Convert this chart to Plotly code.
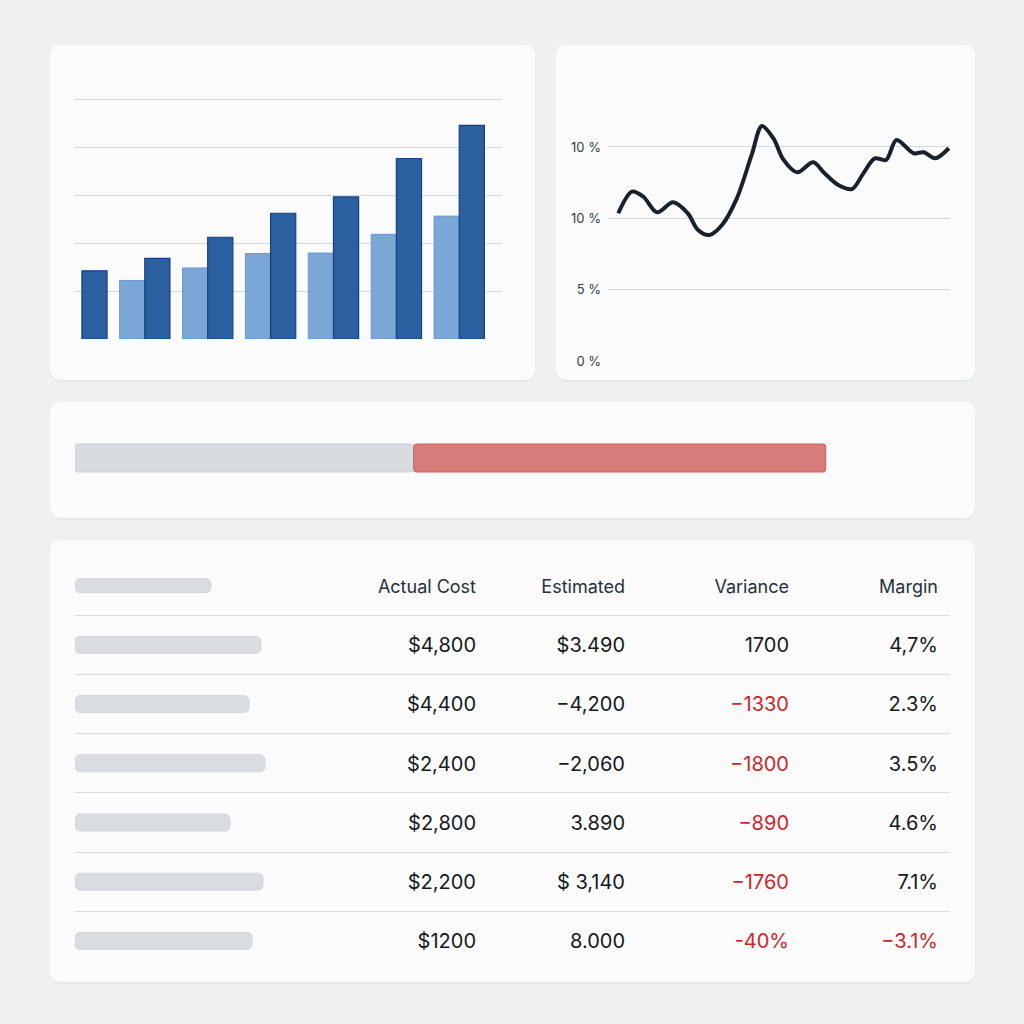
import plotly.graph_objects as go

# ---------------- data ----------------
bar_periods = ["P1", "P2", "P3", "P4", "P5", "P6", "P7"]
bar_light = [None, 1.22, 1.48, 1.78, 1.79, 2.18, 2.56]
bar_dark = [1.42, 1.68, 2.12, 2.62, 2.96, 3.76, 4.45]

line_x = [0.9, 2.1, 3.1, 4.3, 5.7, 7.0, 7.9, 8.9, 10.0, 11.3, 12.6, 13.5, 14.5, 15.4,
          16.6, 18.0, 19.0, 20.2, 21.4, 22.4, 23.4, 24.4, 25.3, 26.8, 27.7, 28.7, 29.9]
line_y = [10.35, 11.87, 11.51, 10.42, 11.12, 10.35, 9.18, 8.83, 9.53, 11.40, 14.44, 16.47,
          15.61, 14.09, 13.22, 13.92, 13.15, 12.33, 12.05, 13.15, 14.20, 14.09, 15.49,
          14.56, 14.63, 14.20, 14.91]
line_tickvals = [0, 5, 10, 15]
line_ticktext = ["0 %", "5 %", "10 %", "10 %"]

progress_spent = 38.7
progress_over = 47.1

table_headers = ["Actual Cost", "Estimated", "Variance", "Margin"]
col_actual = ["$4,800", "$4,400", "$2,400", "$2,800", "$2,200", "$1200"]
col_estimated = ["$3.490", "\u22124,200", "\u22122,060", "3.890", "$ 3,140", "8.000"]
col_variance = ["1700", "\u22121330", "\u22121800", "\u2212890", "\u22121760", "-40%"]
col_margin = ["4,7%", "2.3%", "3.5%", "4.6%", "7.1%", "\u22123.1%"]
label_lengths = [186, 174, 190, 155, 188, 177]   # placeholder label bars (px)
header_label_length = 136

# ---------------- layout helpers ----------------
W = H = 1024
PAGE_BG = "#eef0f2"
CARD_BG = "#fbfbfb"
FONT = "Inter"


def px_x(x):
    return x / W


def px_y(y):
    return 1 - y / H


def rounded_path(x0, y0, x1, y1, r):
    X0, X1 = px_x(x0), px_x(x1)
    Y0, Y1 = px_y(y0), px_y(y1)
    rx, ry = r / W, r / H
    return (f"M{X0+rx},{Y0} L{X1-rx},{Y0} Q{X1},{Y0} {X1},{Y0-ry} "
            f"L{X1},{Y1+ry} Q{X1},{Y1} {X1-rx},{Y1} L{X0+rx},{Y1} "
            f"Q{X0},{Y1} {X0},{Y1+ry} L{X0},{Y0-ry} Q{X0},{Y0} {X0+rx},{Y0} Z")


cards = [(50, 45, 535, 380), (556, 45, 975, 380), (50, 402, 975, 518), (50, 540, 975, 982)]
shapes = []
for (a, b, c, d) in cards:
    shapes.append(dict(type="path", xref="paper", yref="paper", layer="below",
                       path=rounded_path(a, b + 1.5, c, d + 1.5, 11),
                       fillcolor="#e3e5e8", line=dict(width=0)))
    shapes.append(dict(type="path", xref="paper", yref="paper", layer="below",
                       path=rounded_path(a, b, c, d, 11),
                       fillcolor=CARD_BG, line=dict(width=0)))

fig = go.Figure()

# ---------------- bar chart ----------------
fig.add_trace(go.Bar(x=bar_periods, y=bar_light, xaxis="x", yaxis="y",
                     width=0.4, offset=-0.4,
                     marker=dict(color="#7ba7d6", line=dict(color="#6a97cb", width=1)),
                     showlegend=False, hoverinfo="skip"))
fig.add_trace(go.Bar(x=bar_periods, y=bar_dark, xaxis="x", yaxis="y",
                     width=0.4, offset=0.0,
                     marker=dict(color="#2a609f", line=dict(color="#173f85", width=1.2)),
                     showlegend=False, hoverinfo="skip"))

# ---------------- line chart ----------------
fig.add_trace(go.Scatter(x=line_x, y=line_y, xaxis="x2", yaxis="y2", mode="lines",
                         line=dict(color="#18222c", width=4, shape="spline", smoothing=0.9),
                         showlegend=False, hoverinfo="skip"))

# ---------------- progress bar ----------------
fig.add_trace(go.Bar(y=["progress"], x=[progress_spent], base=[0],
                     orientation="h", xaxis="x3", yaxis="y3", width=0.7, offset=-0.35,
                     marker=dict(color="#d8dbe0", line=dict(color="#c9ced6", width=1),
                                 cornerradius=3),
                     showlegend=False, hoverinfo="skip"))
fig.add_trace(go.Bar(y=["progress"], x=[progress_over], base=[progress_spent],
                     orientation="h", xaxis="x3", yaxis="y3", width=0.7, offset=-0.35,
                     marker=dict(color="#d67d7b", line=dict(color="#c9605e", width=1),
                                 cornerradius=3),
                     showlegend=False, hoverinfo="skip"))

# ---------------- table ----------------
TABLE_LEFT = 75
TEXT_DY = 0.04   # small downward nudge of text relative to row centre (rows)
all_lengths = [header_label_length] + label_lengths
rows = list(range(len(all_lengths)))
thick = [0.236] + [0.287] * len(label_lengths)
fig.add_trace(go.Bar(y=rows, x=all_lengths, base=[TABLE_LEFT] * len(all_lengths),
                     orientation="h", xaxis="x4", yaxis="y4",
                     width=thick, offset=[-t / 2 for t in thick],
                     marker=dict(color="#d9dce1", line=dict(color="#cfd3d9", width=0.8),
                                 cornerradius=5),
                     showlegend=False, hoverinfo="skip"))

col_right = [476, 625, 789, 938]
columns = [col_actual, col_estimated, col_variance, col_margin]
highlight = [False, False, True, True]
for j, (vals, hl) in enumerate(zip(columns, highlight)):
    colors = []
    for v in vals:
        neg = v.startswith("\u2212") or v.startswith("-")
        colors.append("#d0242b" if (hl and neg) else "#15191e")
    fig.add_trace(go.Scatter(x=[col_right[j]] * len(vals), y=[r + TEXT_DY for r in rows[1:]],
                             mode="text", text=vals, textposition="middle left",
                             textfont=dict(family=FONT, size=20, color=colors),
                             xaxis="x4", yaxis="y4", showlegend=False, hoverinfo="skip"))
fig.add_trace(go.Scatter(x=col_right, y=[TEXT_DY] * 4, mode="text", text=table_headers,
                         textposition="middle left",
                         textfont=dict(family=FONT, size=18, color="#27303b"),
                         xaxis="x4", yaxis="y4", showlegend=False, hoverinfo="skip"))

# ---------------- layout ----------------
hidden = dict(showgrid=False, zeroline=False, showticklabels=False, ticks="",
              showline=False, automargin=False)

# table rows: header centre 585.7 px, row pitch 59.2 px
ROW0, PITCH = 585.7, 59.2
T_TOP, T_BOT = 543.5, 982.0

fig.update_layout(
    width=W, height=H, margin=dict(l=0, r=0, t=0, b=0, pad=0),
    paper_bgcolor=PAGE_BG, plot_bgcolor="rgba(0,0,0,0)",
    font=dict(family=FONT), shapes=shapes, barmode="group",
    xaxis=dict(domain=[px_x(75), px_x(502)], range=[-0.11, 6.68], anchor="y", **hidden),
    yaxis=dict(domain=[px_y(339), px_y(96)], range=[0, 5.0625], anchor="x",
               tickvals=[0, 1, 2, 3, 4, 5], automargin=False,
               showgrid=True, gridcolor="#d3d8df", gridwidth=1, zeroline=False,
               showticklabels=False, ticks=""),
    xaxis2=dict(domain=[px_x(608), px_x(950)], range=[0, 30], anchor="y2", **hidden),
    yaxis2=dict(domain=[px_y(361), px_y(100)], range=[0, 18.29], anchor="x2",
                tickvals=line_tickvals, automargin=False,
                ticktext=line_ticktext, showgrid=True, gridcolor="#d3d8df", gridwidth=1,
                zeroline=False, ticks="", ticklabelstandoff=6,
                tickfont=dict(family=FONT, size=13, color="#343d49")),
    xaxis3=dict(domain=[px_x(75), px_x(950)], range=[0, 100], anchor="y3", **hidden),
    yaxis3=dict(domain=[px_y(478), px_y(438)], range=[-0.5, 0.5], anchor="x3", **hidden),
    xaxis4=dict(domain=[px_x(75), px_x(950)], range=[75, 950], anchor="y4", **hidden),
    yaxis4=dict(domain=[px_y(T_BOT), px_y(T_TOP)],
                range=[(T_BOT - ROW0) / PITCH, (T_TOP - ROW0) / PITCH], anchor="x4",
                tickvals=[0.5, 1.5, 2.5, 3.5, 4.5, 5.5], showgrid=True, automargin=False,
                gridcolor="#d9dde3", gridwidth=1, zeroline=False, showticklabels=False,
                ticks=""),
)

fig.write_html("out.html")
